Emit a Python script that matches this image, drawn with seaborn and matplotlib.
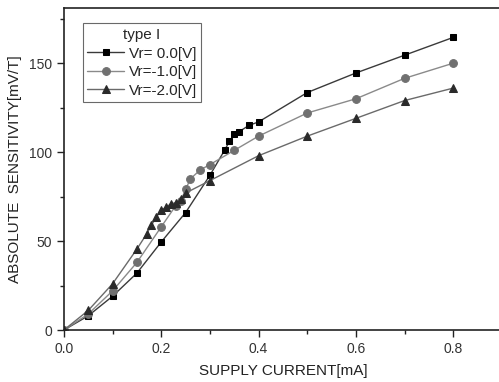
import pandas as pd
import numpy as np
import matplotlib.pyplot as plt
import seaborn as sns

# data
x_v0 = [0.0, 0.05, 0.10, 0.15, 0.20, 0.25, 0.30, 0.33, 0.34, 0.35, 0.36, 0.38, 0.40, 0.50, 0.60, 0.70, 0.80]
y_v0 = [0, 8, 19, 32, 49.5, 66, 87, 101, 106, 110, 111.5, 115, 117, 133.5, 144.5, 154.5, 164.5]

x_v1 = [0.0, 0.05, 0.10, 0.15, 0.20, 0.23, 0.24, 0.25, 0.26, 0.28, 0.30, 0.35, 0.40, 0.50, 0.60, 0.70, 0.80]
y_v1 = [0, 9, 22, 38, 58, 70, 72.5, 79, 85, 90, 93, 101, 109, 122, 130, 141.5, 150]

x_v2 = [0.0, 0.05, 0.10, 0.15, 0.17, 0.18, 0.19, 0.20, 0.21, 0.22, 0.23, 0.24, 0.25, 0.30, 0.40, 0.50, 0.60, 0.70, 0.80]
y_v2 = [0, 11, 26, 45.5, 54, 59, 63.5, 67.5, 69, 71, 71.5, 73.5, 77, 84, 98, 109, 119, 129, 136]

labels = ["Vr= 0.0[V]", "Vr=-1.0[V]", "Vr=-2.0[V]"]

df = pd.concat([
    pd.DataFrame({"x": x_v0, "y": y_v0, "series": labels[0]}),
    pd.DataFrame({"x": x_v1, "y": y_v1, "series": labels[1]}),
    pd.DataFrame({"x": x_v2, "y": y_v2, "series": labels[2]}),
])

sns.set_style("ticks")
plt.rcParams["font.family"] = ["Liberation Sans", "DejaVu Sans"]

line_colors = {labels[0]: "#3a3a3a", labels[1]: "#8a8a8a", labels[2]: "#6a6a6a"}
marker_colors = {labels[0]: "#000000", labels[1]: "#707070", labels[2]: "#2a2a2a"}
markers = {labels[0]: "s", labels[1]: "o", labels[2]: "^"}
msizes = {labels[0]: 5.0, labels[1]: 5.6, labels[2]: 5.8}

fig = plt.figure(figsize=(4.99, 3.82), dpi=100)
ax = fig.add_axes([0.128, 0.136, 0.878, 0.843])

for lab, d in df.groupby("series", sort=False):
    sns.lineplot(data=d, x="x", y="y", ax=ax, color=line_colors[lab],
                 marker=markers[lab], markersize=msizes[lab], markerfacecolor=marker_colors[lab],
                 markeredgecolor=marker_colors[lab], linewidth=1.0, label=lab)

ax.set_xlim(0, 0.9)
ax.set_ylim(0, 181)
ax.set_xticks([0.0, 0.2, 0.4, 0.6, 0.8])
ax.set_xticks(np.arange(0.1, 0.9, 0.2), minor=True)
ax.set_yticks([0, 50, 100, 150])
ax.set_yticks([25, 75, 125, 175], minor=True)
ax.tick_params(which="major", direction="out", length=5, width=1, labelsize=10,
               colors="#222222", labelcolor="#333333")
ax.tick_params(which="minor", direction="out", length=3, width=1, colors="#222222")
for s in ax.spines.values():
    s.set_linewidth(1.2)
    s.set_color("#222222")

ax.set_xlabel("SUPPLY CURRENT[mA]", fontsize=11, color="#222222", labelpad=6)
ax.set_ylabel("ABSOLUTE  SENSITIVITY[mV/T]", fontsize=11, color="#222222", labelpad=5)

leg = ax.legend(title="type I", loc="upper left", bbox_to_anchor=(0.043, 0.952),
                fontsize=11, title_fontsize=11, frameon=True, fancybox=False,
                edgecolor="#444444", borderpad=0.3, labelspacing=0.3,
                handlelength=2.4, handletextpad=0.3, borderaxespad=0.0)
leg.get_frame().set_linewidth(0.8)

fig.savefig("out.png", dpi=100)
